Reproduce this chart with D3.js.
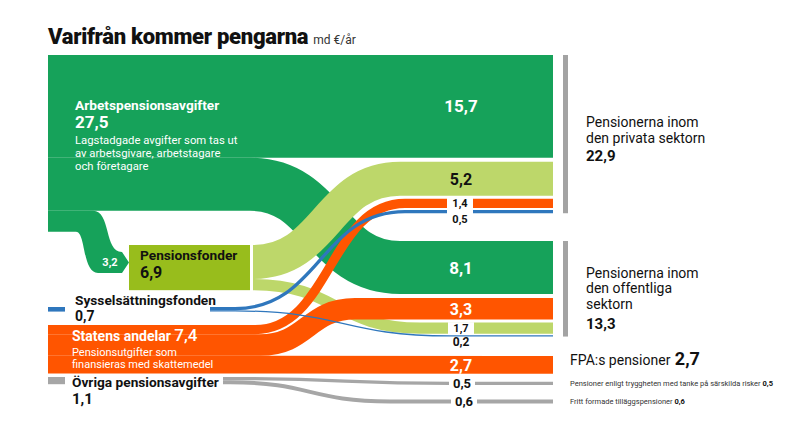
<!DOCTYPE html>
<html>
<head>
<meta charset="utf-8">
<title>Varifrån kommer pengarna</title>
<script src="https://d3js.org/d3.v7.min.js"></script>
<style>
  body { margin: 0; background: #fff; }
  svg { display: block; font-family: Roboto, "Open Sans", sans-serif; }
</style>
</head>
<body>
<div id="chart"></div>
<script>
// källor (vänster sida), md €/år
var sources = ["Arbetspensionsavgifter", "Pensionsfonder", "Sysselsättningsfonden", "Statens andelar", "Övriga pensionsavgifter"];
var sourceValues = [27.5, 6.9, 0.7, 7.4, 1.1];

// mottagare (höger sida)
var targets = ["Privat", "Offentlig", "FPA", "Trygghet", "Fritt"];
var targetValues = [22.9, 13.3, 2.7, 0.5, 0.6];

// flöden
var flowFrom = ["Arbetspensionsavgifter", "Arbetspensionsavgifter", "Arbetspensionsavgifter",
                "Pensionsfonder", "Pensionsfonder",
                "Sysselsättningsfonden", "Sysselsättningsfonden",
                "Statens andelar", "Statens andelar", "Statens andelar",
                "Övriga pensionsavgifter", "Övriga pensionsavgifter"];
var flowTo = ["Privat", "Offentlig", "Pensionsfonder",
              "Privat", "Offentlig",
              "Privat", "Offentlig",
              "Privat", "Offentlig", "FPA",
              "Trygghet", "Fritt"];
var flowValues = [15.7, 8.1, 3.2, 5.2, 1.7, 0.5, 0.2, 1.4, 3.3, 2.7, 0.5, 0.6];

var width = 790, height = 444;
var xLeft = 48, xRight = 553;

var sv = d3.formatLocale({ decimal: ",", thousands: " ", grouping: [3], currency: ["", " €"] });
var fmt = sv.format(".1f");

// pixlar per md €
var y = d3.scaleLinear().domain([0, 27.5]).range([0, 180]);

var color = d3.scaleOrdinal()
    .domain(sources)
    .range(["#16a25a", "#bdd76a", "#2f77bd", "#ff5500", "#a6a6a6"]);

// placering av noder
var sourceTop = { "Arbetspensionsavgifter": 55, "Pensionsfonder": 245, "Sysselsättningsfonden": 307, "Statens andelar": 325, "Övriga pensionsavgifter": 377 };
var sourceStart = { "Arbetspensionsavgifter": xLeft, "Pensionsfonder": 253, "Sysselsättningsfonden": 210, "Statens andelar": xLeft, "Övriga pensionsavgifter": 223 };
var targetTop = { "Privat": 55, "Offentlig": 241, "FPA": 356, "Trygghet": 381.8, "Fritt": 399.5 };
var targetStack = { "Privat": [0, 3, 7, 5], "Offentlig": [1, 8, 4, 6], "FPA": [9], "Trygghet": [10], "Fritt": [11] };
var targetGaps = { "Privat": [0, 4, 3, 2], "Offentlig": [0, 4, 3, 1.5], "FPA": [0], "Trygghet": [0], "Fritt": [0] };
// var kurvan börjar och slutar
var curveX = [[0, 0], [250, 400], [0, 0], [253, 400], [253, 420], [235, 405], [235, 450],
              [255, 405], [260, 355], [0, 0], [240, 450], [230, 390]];

var links = flowValues.map(function(v, i) {
    return { i: i, from: flowFrom[i], to: flowTo[i], value: v, w: y(v), c0: curveX[i][0], c1: curveX[i][1] };
});

// stapla vid källorna
var offs = {};
links.forEach(function(l) {
    var o = offs[l.from] || 0;
    l.sy = sourceTop[l.from] + o + l.w / 2;
    offs[l.from] = o + l.w;
});
// stapla vid mottagarna
targets.forEach(function(t) {
    var o = 0;
    targetStack[t].forEach(function(idx, k) {
        var l = links[idx];
        o += targetGaps[t][k];
        l.ty = targetTop[t] + o + l.w / 2;
        o += l.w;
    });
    targetStack[t].bottom = targetTop[t] + o;
});

var svg = d3.select("#chart").append("svg")
    .attr("width", width)
    .attr("height", height);

function ribbon(l) {
    var p = d3.path();
    var xs = sourceStart[l.from];
    p.moveTo(xs, l.sy);
    if (l.c0 === l.c1) {
        p.lineTo(xRight, l.ty);
    } else {
        var m = (l.c0 + l.c1) / 2;
        p.lineTo(l.c0, l.sy);
        p.bezierCurveTo(m, l.sy, m, l.ty, l.c1, l.ty);
        p.lineTo(xRight, l.ty);
    }
    return p.toString();
}

// Pensionsfonder-rutan
var pfTop = sourceTop["Pensionsfonder"];
var pfH = y(sourceValues[1]);
svg.append("rect")
    .attr("x", 129).attr("y", pfTop)
    .attr("width", 121).attr("height", pfH)
    .attr("fill", "#98bd1c");

// 3,2 till Pensionsfonder (pil)
var l32 = links[2];
var t0 = l32.sy - l32.w / 2, t1 = l32.sy + l32.w / 2;
var aTop = pfTop + 7, aBot = aTop + l32.w, aMid = (aTop + aBot) / 2;
var p32 = d3.path();
p32.moveTo(xLeft, t0);
p32.lineTo(93, t0);
p32.bezierCurveTo(111, t0, 104, aTop, 122, aTop);
p32.lineTo(129, aMid);
p32.lineTo(122, aBot);
p32.lineTo(98, aBot);
p32.bezierCurveTo(82, aBot, 86, t1, 76, t1);
p32.lineTo(xLeft, t1);
p32.closePath();

var order = [0, 1, 3, 4, 7, 8, 9, 5, 6, 10, 11];
svg.append("g").selectAll("path")
    .data(order.map(function(i) { return links[i]; }))
    .enter()
    .append("path")
    .attr("d", ribbon)
    .attr("fill", "none")
    .attr("stroke", function(d) { return color(d.from); })
    .attr("stroke-width", function(d) { return d.w; });

svg.append("path").attr("d", p32.toString()).attr("fill", color(sources[0]));

// små stumpar till vänster
[2, 4].forEach(function(si) {
    svg.append("rect")
        .attr("x", xLeft).attr("y", sourceTop[sources[si]])
        .attr("width", 17).attr("height", y(sourceValues[si]))
        .attr("fill", color(sources[si]));
});

// grå staplar för sektorerna
["Privat", "Offentlig"].forEach(function(t) {
    svg.append("rect")
        .attr("x", 563).attr("y", targetTop[t])
        .attr("width", 5).attr("height", targetStack[t].bottom - targetTop[t])
        .attr("fill", "#a3a3a3");
});

// värdeetiketter på flödena
var big = [0, 3, 1, 8, 9];
svg.append("g").selectAll("text")
    .data(big.map(function(i) { return links[i]; }))
    .enter()
    .append("text")
    .attr("x", 461)
    .attr("y", function(d) { return d.ty + 6; })
    .attr("text-anchor", "middle")
    .attr("font-weight", 700)
    .attr("font-size", function(d) { return d.i === 0 || d.i === 1 ? 17 : 16; })
    .attr("fill", function(d) { return d.i === 3 ? "#111" : "#fff"; })
    .text(function(d) { return fmt(d.value); });

// vita luckor för små etiketter
function gapLabel(idx, boxY0, boxY1, x) {
    var l = links[idx];
    svg.append("rect").attr("x", x - 13).attr("y", l.ty + boxY0)
        .attr("width", 26).attr("height", boxY1 - boxY0).attr("fill", "#fff");
}
gapLabel(7, -6, 13, 460);
gapLabel(4, -6, 6, 461);
gapLabel(10, -6, 7, 462);
gapLabel(11, -7, 7, 464);

function smallLabel(idx, dy, x, size) {
    var l = links[idx];
    svg.append("text")
        .attr("x", x).attr("y", l.ty + dy)
        .attr("text-anchor", "middle")
        .attr("font-weight", 700)
        .attr("font-size", size)
        .attr("fill", "#111")
        .text(fmt(l.value));
}
smallLabel(7, 4, 460, 11);
smallLabel(5, 11, 460, 11);
smallLabel(4, 4, 461, 11);
smallLabel(6, 10, 461, 12);
smallLabel(10, 5, 462, 13);
smallLabel(11, 5, 464, 13);

// rubrik
var title = svg.append("text").attr("x", 48).attr("y", 44).attr("fill", "#111");
title.append("tspan").attr("font-size", 22).attr("font-weight", 900).attr("letter-spacing", -0.3).text("Varifrån kommer pengarna");
title.append("tspan").attr("font-size", 12).attr("dx", 5).attr("fill", "#333").text("md €/år");

function lines(x, rows) {
    rows.forEach(function(r) {
        svg.append("text")
            .attr("x", x).attr("y", r[0])
            .attr("font-size", r[1])
            .attr("font-weight", r[2])
            .attr("fill", r[3])
            .text(r[4]);
    });
}

// vänstra etiketter
lines(75, [
    [110, 13.7, 700, "#fff", sources[0]],
    [128, 17, 700, "#fff", fmt(sourceValues[0])],
    [144, 11.3, 400, "#fff", "Lagstadgade avgifter som tas ut"],
    [157, 11.3, 400, "#fff", "av arbetsgivare, arbetstagare"],
    [170, 11.3, 400, "#fff", "och företagare"]
]);
svg.append("text").attr("x", 110).attr("y", aMid + 4).attr("text-anchor", "middle")
    .attr("font-size", 11).attr("font-weight", 700).attr("fill", "#fff").text(fmt(l32.value));
lines(140, [
    [pfTop + 15, 13.7, 700, "#111", sources[1]],
    [pfTop + 33, 16, 700, "#111", fmt(sourceValues[1])]
]);
lines(75, [
    [305, 13.7, 700, "#111", sources[2]],
    [321, 14, 700, "#111", fmt(sourceValues[2])]
]);
var st = svg.append("text").attr("x", 72).attr("y", 341).attr("fill", "#fff");
st.append("tspan").attr("font-size", 14).attr("font-weight", 700).text(sources[3] + " ");
st.append("tspan").attr("font-size", 17).attr("font-weight", 500).text(fmt(sourceValues[3]));
lines(72, [
    [355.5, 11, 400, "#fff", "Pensionsutgifter som"],
    [368, 11, 400, "#fff", "finansieras med skattemedel"],
    [387, 13.7, 700, "#111", sources[4]],
    [404, 15, 700, "#111", fmt(sourceValues[4])]
]);

// högra etiketter
lines(586, [
    [127, 14, 400, "#111", "Pensionerna inom"],
    [143, 14, 400, "#111", "den privata sektorn"],
    [161, 15, 700, "#111", fmt(targetValues[0])],
    [278, 14, 400, "#111", "Pensionerna inom"],
    [293, 14, 400, "#111", "den offentliga"],
    [309, 14, 400, "#111", "sektorn"],
    [329, 15, 700, "#111", fmt(targetValues[1])]
]);
var fpa = svg.append("text").attr("x", 570).attr("y", 365).attr("fill", "#111");
fpa.append("tspan").attr("font-size", 14).text("FPA:s pensioner ");
fpa.append("tspan").attr("font-size", 18).attr("font-weight", 700).attr("dx", 1).text(fmt(targetValues[2]));

var tr = svg.append("text").attr("x", 570).attr("y", 386).attr("font-size", 7.5).attr("fill", "#333");
tr.append("tspan").text("Pensioner enligt tryggheten med tanke på särskilda risker ");
tr.append("tspan").attr("font-weight", 700).attr("fill", "#111").text(fmt(targetValues[3]));
var fr = svg.append("text").attr("x", 570).attr("y", 404).attr("font-size", 7.5).attr("fill", "#333");
fr.append("tspan").text("Fritt formade tilläggspensioner ");
fr.append("tspan").attr("font-weight", 700).attr("fill", "#111").text(fmt(targetValues[4]));
</script>
</body>
</html>
